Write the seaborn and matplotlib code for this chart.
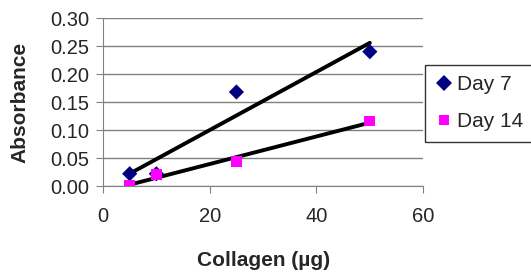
import matplotlib
matplotlib.use("Agg")
import matplotlib.pyplot as plt
import seaborn as sns
import numpy as np
import pandas as pd

# values
collagen = [5, 10, 25, 50]
day7 = [0.022, 0.022, 0.168, 0.240]
day14 = [0.002, 0.020, 0.044, 0.116]
series_names = ["Day 7", "Day 14"]
y_ticks = [0.00, 0.05, 0.10, 0.15, 0.20, 0.25, 0.30]
x_ticks = [0, 20, 40, 60]

sns.set_style("white")
plt.rcParams["font.family"] = ["Liberation Sans", "DejaVu Sans"]

df = pd.DataFrame({
    "Collagen": collagen * 2,
    "Absorbance": day7 + day14,
    "Series": [series_names[0]] * len(collagen) + [series_names[1]] * len(collagen),
})

fig = plt.figure(figsize=(5.31, 2.74), dpi=100)
ax = fig.add_axes([0.194, 0.321, 0.603, 0.613])

# trend lines first so markers sit on top
for name in series_names:
    sub = df[df["Series"] == name]
    sns.regplot(data=sub, x="Collagen", y="Absorbance", ax=ax, ci=None,
                scatter=False, truncate=True,
                line_kws={"color": "black", "lw": 2.8, "zorder": 2})

sns.scatterplot(data=df, x="Collagen", y="Absorbance", hue="Series", style="Series",
                palette={"Day 7": "#000080", "Day 14": "#FF00FF"},
                markers={"Day 7": "D", "Day 14": "s"},
                s=60, linewidth=0, ax=ax, zorder=3)

ax.set_xlim(0, 60)
ax.set_ylim(0, 0.30)
ax.set_xticks(x_ticks)
ax.set_yticks(y_ticks)
ax.set_yticklabels([f"{v:.2f}" for v in y_ticks])
ax.grid(axis="y", color="#808080", lw=1)
ax.set_axisbelow(True)
for side in ["top", "right"]:
    ax.spines[side].set_visible(False)
for side in ["left", "bottom"]:
    ax.spines[side].set_color("#808080")
ax.tick_params(axis="both", direction="out", length=5, color="#808080",
               labelsize=14.5, left=True, bottom=True)
ax.tick_params(axis="x", pad=10)
ax.tick_params(axis="y", pad=5)
ax.set_xlabel("Collagen (µg)", fontsize=15, fontweight="bold", labelpad=18)
ax.set_ylabel("Absorbance", fontsize=15, fontweight="bold", labelpad=15)

leg = ax.legend(loc="upper left", bbox_to_anchor=(425 / 531, 1 - 65 / 274),
                bbox_transform=fig.transFigure, frameon=True,
                fancybox=False, edgecolor="black", fontsize=15, handletextpad=0.25,
                borderpad=0.5, labelspacing=0.85, handlelength=0.8,
                borderaxespad=0)
leg.get_frame().set_linewidth(1)

fig.savefig("out.png", dpi=100)
